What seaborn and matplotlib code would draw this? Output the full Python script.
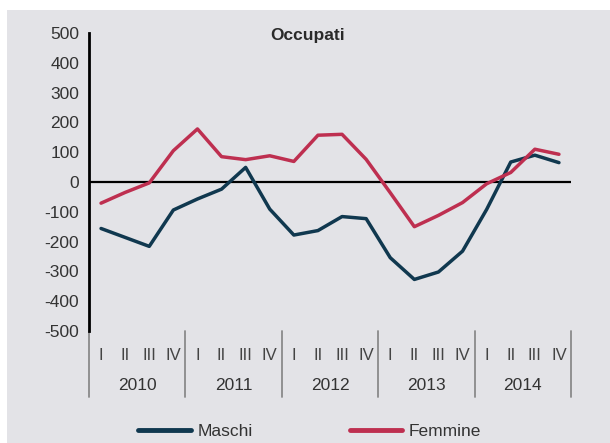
import pandas as pd
import matplotlib.pyplot as plt
import seaborn as sns
from matplotlib.patches import Rectangle

# dati (variazioni tendenziali, migliaia)
anni = ['2010', '2011', '2012', '2013', '2014']
trimestri = ['I', 'II', 'III', 'IV']
maschi = [-156, -186, -216, -94, -57, -24, 49, -91, -178, -163,
          -116, -123, -254, -327, -302, -232, -92, 67, 90, 65]
femmine = [-71, -35, -3, 105, 178, 85, 75, 88, 69, 157,
           160, 76, -36, -150, -112, -69, -6, 32, 110, 93]
serie = ['Maschi', 'Femmine']
colori = ['#10384f', '#be2f50']

sfondo = '#e3e3e7'

def main():
    n = len(anni) * len(trimestri)
    df = pd.DataFrame({
        'pos': list(range(n)) * 2,
        'valore': maschi + femmine,
        'sesso': ['Maschi'] * n + ['Femmine'] * n,
    })

    sns.set_style('white')
    plt.rcParams['font.family'] = ['Liberation Sans', 'DejaVu Sans']
    plt.rcParams['axes.unicode_minus'] = False

    fig = plt.figure(figsize=(6.1, 4.43), dpi=100)
    fig.patch.set_facecolor('white')
    fig.patches.append(Rectangle((7 / 610, 0), 1, 1 - 10 / 443, transform=fig.transFigure,
                                 facecolor=sfondo, edgecolor='none', zorder=-10))
    ax = fig.add_axes([89 / 610, 1 - 331 / 443, (571 - 89) / 610, (331 - 33) / 443])
    ax.set_facecolor(sfondo)

    sns.lineplot(data=df, x='pos', y='valore', hue='sesso', hue_order=serie,
                 palette=colori, linewidth=2.5, ax=ax, legend=False)

    ax.set_xlim(-0.5, n - 0.5)
    ax.set_ylim(-500, 500)
    ax.axhline(0, color='black', linewidth=1.6, zorder=1)

    for s in ['top', 'right', 'bottom']:
        ax.spines[s].set_visible(False)
    ax.spines['left'].set_color('black')
    ax.spines['left'].set_linewidth(2.0)

    ax.set_yticks(range(-500, 501, 100))
    ax.tick_params(axis='y', direction='inout', length=6, width=1, color='#555555',
                   labelsize=12.5, labelcolor='#333333', pad=4)

    # trimestri come etichette dei tick, anni sotto
    ax.set_xticks(range(n))
    ax.set_xticklabels(trimestri * len(anni))
    ax.tick_params(axis='x', length=0, labelsize=12, labelcolor='#444444', pad=12)
    trans = ax.get_xaxis_transform()
    for i, anno in enumerate(anni):
        ax.text(i * 4 + 1.5, -0.182, anno, transform=trans, ha='center', va='center',
                fontsize=12.5, color='#333333')
    for i in range(len(anni) + 1):
        ax.plot([i * 4 - 0.5, i * 4 - 0.5], [0, -0.222], transform=trans,
                color='#8a8a8a', linewidth=1.3, clip_on=False)

    ax.set_xlabel('')
    ax.set_ylabel('')
    ax.text(0.454, 0.99, 'Occupati', transform=ax.transAxes, ha='center', va='center',
            fontsize=12.5, fontweight='bold', color='#2a2a2a')

    handles = [plt.Line2D([], [], color=c, linewidth=3.5) for c in colori]
    fig.legend(handles, serie, loc='center', bbox_to_anchor=(0.508, 0.027), ncol=2,
               frameon=False, fontsize=12.5, handlelength=3.0, handletextpad=0.4,
               columnspacing=5.6, labelcolor='#333333')

    fig.savefig('out.png', dpi=100, facecolor=fig.get_facecolor())
    plt.close(fig)

if __name__ == "__main__":
    main()
